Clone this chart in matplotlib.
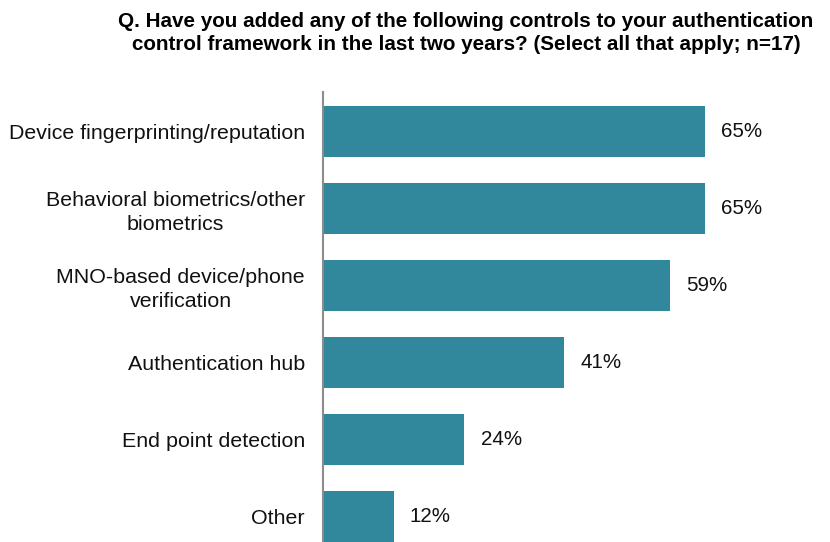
import matplotlib
matplotlib.use("Agg")
import matplotlib.pyplot as plt

categories = ["Device fingerprinting/reputation",
              "Behavioral biometrics/other\nbiometrics",
              "MNO-based device/phone\nverification",
              "Authentication hub",
              "End point detection",
              "Other"]
values = [65, 65, 59, 41, 24, 12]
value_labels = ["65%", "65%", "59%", "41%", "24%", "12%"]

TITLE = ("Q. Have you added any of the following controls to your authentication\n"
         "control framework in the last two years? (Select all that apply; n=17)")
BAR = "#31879B"

plt.rcParams["font.family"] = ["Liberation Sans", "DejaVu Sans"]

fig = plt.figure(figsize=(8.3, 5.42), dpi=100)
ax = fig.add_axes([323 / 830, 0.0, 1 - 323 / 830, 1 - 92 / 542])

ypos = list(range(len(values)))
ax.barh(ypos, values, height=0.66, color=BAR, zorder=2)
ax.set_xlim(0, (830 - 323) / 5.877)
ax.set_ylim(5.33, -0.51)

for y, v, lab in zip(ypos, values, value_labels):
    ax.text(v + 2.8, y, lab, va="center", ha="left", fontsize=14.8, color="#111111")

ax.set_yticks(ypos)
ax.set_yticklabels(categories, fontsize=15.4, color="#111111", linespacing=1.3,
                   multialignment="center")
ax.tick_params(axis="y", length=0, pad=13)
ax.set_xticks([])
for s in ["top", "right", "bottom"]:
    ax.spines[s].set_visible(False)
ax.spines["left"].set_color("#8C8C8C")
ax.spines["left"].set_linewidth(1.5)

fig.text(466 / 830, 1 - 33 / 542, TITLE, ha="center", va="center", fontsize=14.9,
         fontweight="bold", linespacing=1.32)

fig.savefig("out.png", dpi=100)
